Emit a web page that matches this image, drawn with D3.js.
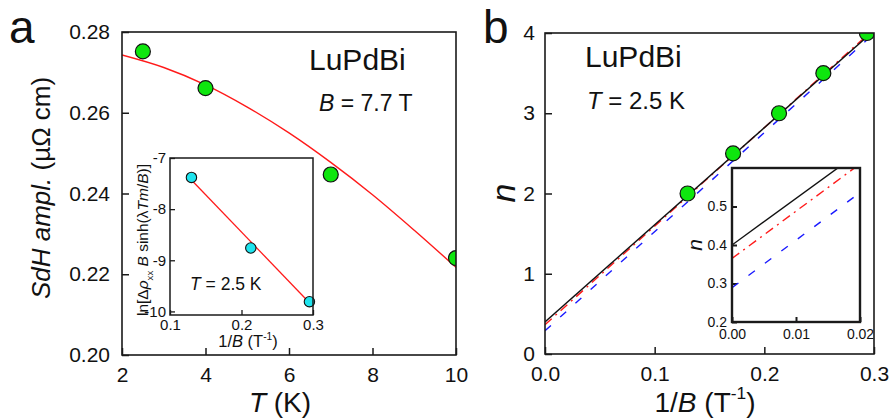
<!DOCTYPE html>
<html lang="en">
<head>
<meta charset="UTF-8">
<script src="https://d3js.org/d3.v7.min.js"></script>
<style>
  body { margin: 0; background: #fff; }
  svg text { font-family: Arial, "Liberation Sans", sans-serif; fill: #111; }
</style>
</head>
<body>
<div id="chart"></div>
<script>
// panel a: SdH amplitude vs temperature
var tempK = [2.5, 4, 7, 10];
var sdhAmpl = [0.2752, 0.2661, 0.2447, 0.2240];
// LK fit curve
var fitT = [2, 3, 4, 5, 6, 7, 8, 9, 10];
var fitAmpl = [0.2743, 0.2712, 0.2669, 0.2614, 0.2550, 0.2477, 0.2397, 0.2309, 0.2217];
var aTicksX = [2, 4, 6, 8, 10];
var aTicksY = [0.20, 0.22, 0.24, 0.26, 0.28];

// panel a inset: Dingle plot
var dingleInvB = [0.130, 0.213, 0.295];
var dingleVal = [-7.38, -8.76, -9.81];
var dingleFitX = [0.130, 0.295];
var dingleFitY = [-7.43, -9.83];
var insAticksX = [0.1, 0.2, 0.3];
var insAticksY = [-10, -9, -8, -7];

// panel b: Landau level index vs 1/B
var invB = [0.130, 0.1715, 0.2134, 0.2538, 0.2935];
var levelN = [2, 2.5, 3, 3.5, 4];
var lineX = [0, 0.3];
var lineBlack = [0.400, 4.030];
var lineRed = [0.365, 4.050];
var lineBlue = [0.289, 3.994];
var bTicksX = [0, 0.1, 0.2, 0.3];
var bTicksY = [0, 1, 2, 3, 4];
var insBticksX = [0, 0.01, 0.02];
var insBticksY = [0.2, 0.3, 0.4, 0.5];

var width = 889, height = 420;
var svg = d3.select("#chart").append("svg")
    .attr("width", width).attr("height", height);

var defs = svg.append("defs");

// write a text made of segments: {t, i (italic), sub, sup}
function richText(g, segs, size) {
    var txt = g.append("text").style("font-size", size + "px");
    var shift = 0;
    segs.forEach(function (s) {
        var ts = txt.append("tspan").text(s.t);
        if (s.i) ts.style("font-style", "italic");
        var want = s.sub ? 0.3 : (s.sup ? -0.45 : 0);
        if (s.sub || s.sup) ts.style("font-size", (size * 0.62) + "px");
        var dy = (want - shift) * size;
        if (dy !== 0) ts.attr("dy", dy);
        shift = want;
    });
    return txt;
}

function frame(g, x0, y0, x1, y1, w) {
    g.append("rect").attr("x", x0).attr("y", y0)
        .attr("width", x1 - x0).attr("height", y1 - y0)
        .attr("fill", "none").attr("stroke", "#1a1a1a").attr("stroke-width", w);
}

function styleAxis(sel, size, w) {
    sel.select(".domain").remove();
    sel.selectAll(".tick line").attr("stroke", "#1a1a1a").attr("stroke-width", w);
    sel.selectAll(".tick text").style("font-size", size + "px").attr("fill", "#111")
        .style("font-family", "Arial, 'Liberation Sans', sans-serif");
}

function clipRect(id, x0, y0, x1, y1) {
    defs.append("clipPath").attr("id", id).append("rect")
        .attr("x", x0).attr("y", y0).attr("width", x1 - x0).attr("height", y1 - y0);
    return "url(#" + id + ")";
}

var green = "#0ee60e", cyan = "#1ee4ee";

// ---------------- panel a ----------------
var ax = d3.scaleLinear().domain([2, 10]).range([122, 456]);
var ay = d3.scaleLinear().domain([0.20, 0.28]).range([355, 32]);

svg.append("g").attr("transform", "translate(0,355)")
    .call(d3.axisBottom(ax).tickValues(aTicksX).tickSizeInner(-7).tickSizeOuter(0).tickPadding(12))
    .call(styleAxis, 21, 1.5);
svg.append("g").attr("transform", "translate(122,0)")
    .call(d3.axisLeft(ay).tickValues(aTicksY).tickFormat(d3.format(".2f")).tickSizeInner(-7).tickSizeOuter(0).tickPadding(12))
    .call(styleAxis, 21, 1.5);

var aPlot = svg.append("g").attr("clip-path", clipRect("clipA", 122, 32, 456, 355));
aPlot.append("path")
    .datum(fitT.map(function (t, i) { return [t, fitAmpl[i]]; }))
    .attr("fill", "none").attr("stroke", "#ff1a1a").attr("stroke-width", 1.4)
    .attr("d", d3.line().curve(d3.curveMonotoneX)
        .x(function (d) { return ax(d[0]); }).y(function (d) { return ay(d[1]); }));
aPlot.selectAll("circle").data(tempK).enter().append("circle")
    .attr("cx", function (d) { return ax(d); })
    .attr("cy", function (d, i) { return ay(sdhAmpl[i]); })
    .attr("r", 7.5).attr("fill", green).attr("stroke", "#111").attr("stroke-width", 1.2);
frame(svg, 122, 32, 456, 355, 1.6);

richText(svg, [{t: "LuPdBi"}], 30).attr("x", 309).attr("y", 70);
richText(svg, [{t: "B", i: true}, {t: " = 7.7 T"}], 23).attr("x", 319).attr("y", 111);

richText(svg, [{t: "T", i: true}, {t: " (K)"}], 28)
    .attr("x", 280).attr("y", 412).attr("text-anchor", "middle");
richText(svg, [{t: "SdH ampl.", i: true}, {t: " (\u00b5\u03a9 cm)"}], 26)
    .attr("text-anchor", "middle").attr("transform", "translate(50,188) rotate(-90)");
svg.append("text").text("a").style("font-size", "46px").attr("x", 9).attr("y", 43);

// inset of panel a
var ix = d3.scaleLinear().domain([0.1, 0.3]).range([170, 313]);
var iy = d3.scaleLinear().domain([-10.07, -7]).range([315, 158]);
svg.append("rect").attr("x", 170).attr("y", 158).attr("width", 143).attr("height", 157).attr("fill", "#fff");
svg.append("g").attr("transform", "translate(0,315)")
    .call(d3.axisBottom(ix).tickValues(insAticksX).tickFormat(d3.format(".1f")).tickSizeInner(-5).tickSizeOuter(0).tickPadding(4))
    .call(styleAxis, 15, 1.3);
svg.append("g").attr("transform", "translate(170,0)")
    .call(d3.axisLeft(iy).tickValues(insAticksY).tickFormat(function (d) { return String(d); }).tickSizeInner(-5).tickSizeOuter(0).tickPadding(4))
    .call(styleAxis, 15, 1.3);
svg.append("path")
    .datum(dingleFitX.map(function (x, i) { return [x, dingleFitY[i]]; }))
    .attr("fill", "none").attr("stroke", "#ff1a1a").attr("stroke-width", 1.3)
    .attr("d", d3.line().x(function (d) { return ix(d[0]); }).y(function (d) { return iy(d[1]); }));
svg.selectAll("circle.dingle").data(dingleInvB).enter().append("circle")
    .attr("class", "dingle")
    .attr("cx", function (d) { return ix(d); })
    .attr("cy", function (d, i) { return iy(dingleVal[i]); })
    .attr("r", 5.2).attr("fill", cyan).attr("stroke", "#111").attr("stroke-width", 1.1);
frame(svg, 170, 158, 313, 315, 1.5);
richText(svg, [{t: "T", i: true}, {t: " = 2.5 K"}], 17.5).attr("x", 190).attr("y", 290);
richText(svg, [{t: "1/"}, {t: "B", i: true}, {t: " (T"}, {t: "-1", sup: true}, {t: ")"}], 16.5)
    .attr("x", 248).attr("y", 347).attr("text-anchor", "middle");
richText(svg, [{t: "ln[\u0394"}, {t: "\u03c1", i: true}, {t: "xx", sub: true}, {t: " "},
               {t: "B", i: true}, {t: " sinh(\u03bb"}, {t: "Tm", i: true}, {t: "/"}, {t: "B", i: true}, {t: ")]"}], 15.5)
    .attr("text-anchor", "middle").attr("transform", "translate(148,240) rotate(-90)");

// ---------------- panel b ----------------
var bx = d3.scaleLinear().domain([0, 0.3]).range([545, 874]);
var by = d3.scaleLinear().domain([0, 4]).range([354, 33]);

svg.append("g").attr("transform", "translate(0,354)")
    .call(d3.axisBottom(bx).tickValues(bTicksX).tickFormat(d3.format(".1f")).tickSizeInner(-7).tickSizeOuter(0).tickPadding(12))
    .call(styleAxis, 21, 1.5);
svg.append("g").attr("transform", "translate(545,0)")
    .call(d3.axisLeft(by).tickValues(bTicksY).tickFormat(d3.format("d")).tickSizeInner(-7).tickSizeOuter(0).tickPadding(10))
    .call(styleAxis, 21, 1.5);

var dashBlue = "8,12.5", dashRed = "9,5,2,5";
var fits = [
    {v: lineBlue, c: "#1a1aff", dash: dashBlue},
    {v: lineRed, c: "#ff1a1a", dash: dashRed},
    {v: lineBlack, c: "#111", dash: null}
];
var bPlot = svg.append("g").attr("clip-path", clipRect("clipB", 545, 33, 874, 354));
function drawFits(g, xs, ys, lw) {
    fits.forEach(function (f) {
        var p = g.append("path")
            .datum(lineX.map(function (x, i) { return [x, f.v[i]]; }))
            .attr("fill", "none").attr("stroke", f.c).attr("stroke-width", lw)
            .attr("d", d3.line().x(function (d) { return xs(d[0]); }).y(function (d) { return ys(d[1]); }));
        if (f.dash) p.attr("stroke-dasharray", f.dash);
    });
}
drawFits(bPlot, bx, by, 1.4);
bPlot.selectAll("circle").data(invB).enter().append("circle")
    .attr("cx", function (d) { return bx(d); })
    .attr("cy", function (d, i) { return by(levelN[i]); })
    .attr("r", 7.5).attr("fill", green).attr("stroke", "#111").attr("stroke-width", 1.2);
frame(svg, 545, 33, 874, 354, 1.6);

richText(svg, [{t: "LuPdBi"}], 30).attr("x", 585).attr("y", 67);
richText(svg, [{t: "T", i: true}, {t: " = 2.5 K"}], 24).attr("x", 587).attr("y", 109);

richText(svg, [{t: "1/"}, {t: "B", i: true}, {t: " (T"}, {t: "-1", sup: true}, {t: ")"}], 28)
    .attr("x", 705).attr("y", 412).attr("text-anchor", "middle");
richText(svg, [{t: "n", i: true}], 34)
    .attr("text-anchor", "middle").attr("transform", "translate(515,193) rotate(-90)");
svg.append("text").text("b").style("font-size", "46px").attr("x", 483).attr("y", 43);

// inset of panel b: zoom near 1/B = 0
var jx = d3.scaleLinear().domain([0, 0.02]).range([732, 860]);
var jy = d3.scaleLinear().domain([0.2, 0.6]).range([322, 168]);
svg.append("rect").attr("x", 732).attr("y", 168).attr("width", 128).attr("height", 154).attr("fill", "#fff");
svg.append("g").attr("transform", "translate(0,322)")
    .call(d3.axisBottom(jx).tickValues(insBticksX).tickFormat(d3.format(".2f")).tickSizeInner(-5).tickSizeOuter(0).tickPadding(7))
    .call(styleAxis, 14, 2);
svg.append("g").attr("transform", "translate(732,0)")
    .call(d3.axisLeft(jy).tickValues(insBticksY).tickFormat(d3.format(".1f")).tickSizeInner(-5).tickSizeOuter(0).tickPadding(5))
    .call(styleAxis, 14, 2);
var jPlot = svg.append("g").attr("clip-path", clipRect("clipJ", 732, 168, 860, 322));
drawFits(jPlot, jx, jy, 1.4);
frame(svg, 732, 168, 860, 322, 2.4);
richText(svg, [{t: "n", i: true}], 21)
    .attr("text-anchor", "middle").attr("transform", "translate(702,245) rotate(-90)");
</script>
</body>
</html>
